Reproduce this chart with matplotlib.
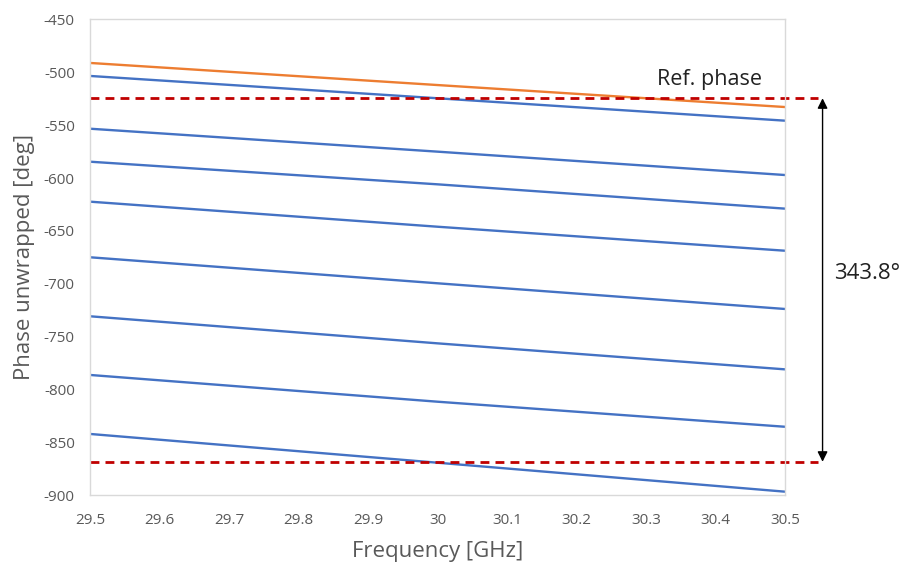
#!/usr/bin/env python3

import numpy as np
import matplotlib
matplotlib.use("Agg")
import matplotlib.pyplot as plt

plt.rcParams['font.family'] = ['Open Sans', 'DejaVu Sans']
plt.rcParams['axes.unicode_minus'] = False

# values read at 29.5, 30.0 and 30.5 GHz
freq = [29.5, 30.0, 30.5]
ref_phase = [-491.1, -512.0, -532.8]
phases = [
    [-503.4, -524.5, -545.7],
    [-553.3, -575.0, -597.1],
    [-584.5, -605.9, -628.9],
    [-622.3, -646.0, -668.7],
    [-674.9, -699.5, -723.8],
    [-730.7, -756.3, -780.9],
    [-786.2, -811.5, -835.2],
    [-842.0, -869.2, -896.6],
]
ref_level = -524.5
span = 343.8
low_level = ref_level - span

blue = "#4472C4"
orange = "#ED7D31"
red = "#C00000"
grey = "#595959"

fig = plt.figure(figsize=(9.04, 5.65), dpi=100)
ax = fig.add_axes([0.0996, 0.1234, 0.7688, 0.8421])

for p in phases:
    ax.plot(freq, p, color=blue, lw=1.7, solid_capstyle='butt')
ax.plot(freq, ref_phase, color=orange, lw=1.7, solid_capstyle='butt')

ax.set_xlim(29.5, 30.5)
ax.set_ylim(-900, -450)
ax.set_xticks(np.arange(29.5, 30.51, 0.1))
ax.set_xticklabels(["29.5", "29.6", "29.7", "29.8", "29.9", "30", "30.1", "30.2", "30.3", "30.4", "30.5"])
ax.set_yticks(np.arange(-900, -449, 50))
ax.tick_params(length=0, labelsize=11, labelcolor=grey, pad=11)
ax.tick_params(axis='x', pad=13)
for s in ax.spines.values():
    s.set_color("#D9D9D9")
    s.set_linewidth(1)

ax.set_xlabel("Frequency [GHz]", fontsize=16, color=grey, labelpad=9)
ax.set_ylabel("Phase unwrapped [deg]", fontsize=16, color=grey, labelpad=6)

# dashed reference lines extending past the plot area
for lev in [ref_level, low_level]:
    ax.plot([29.5, 30.548], [lev, lev], color=red, lw=2.0, ls=(0, (3.2, 2.2)),
            clip_on=False)

ax.annotate("", xy=(30.554, low_level), xytext=(30.554, ref_level),
            arrowprops=dict(arrowstyle="<|-|>", color="black", lw=1,
                            mutation_scale=15, shrinkA=0, shrinkB=0),
            annotation_clip=False)
ax.text(30.392, ref_level + 8, "Ref. phase", fontsize=15.5, color="#222222",
        ha='center', va='bottom')
ax.text(30.571, (ref_level + low_level) / 2 + 6, "343.8°", fontsize=16,
        color="#222222", ha='left', va='center')

fig.savefig("out.png", dpi=100)
